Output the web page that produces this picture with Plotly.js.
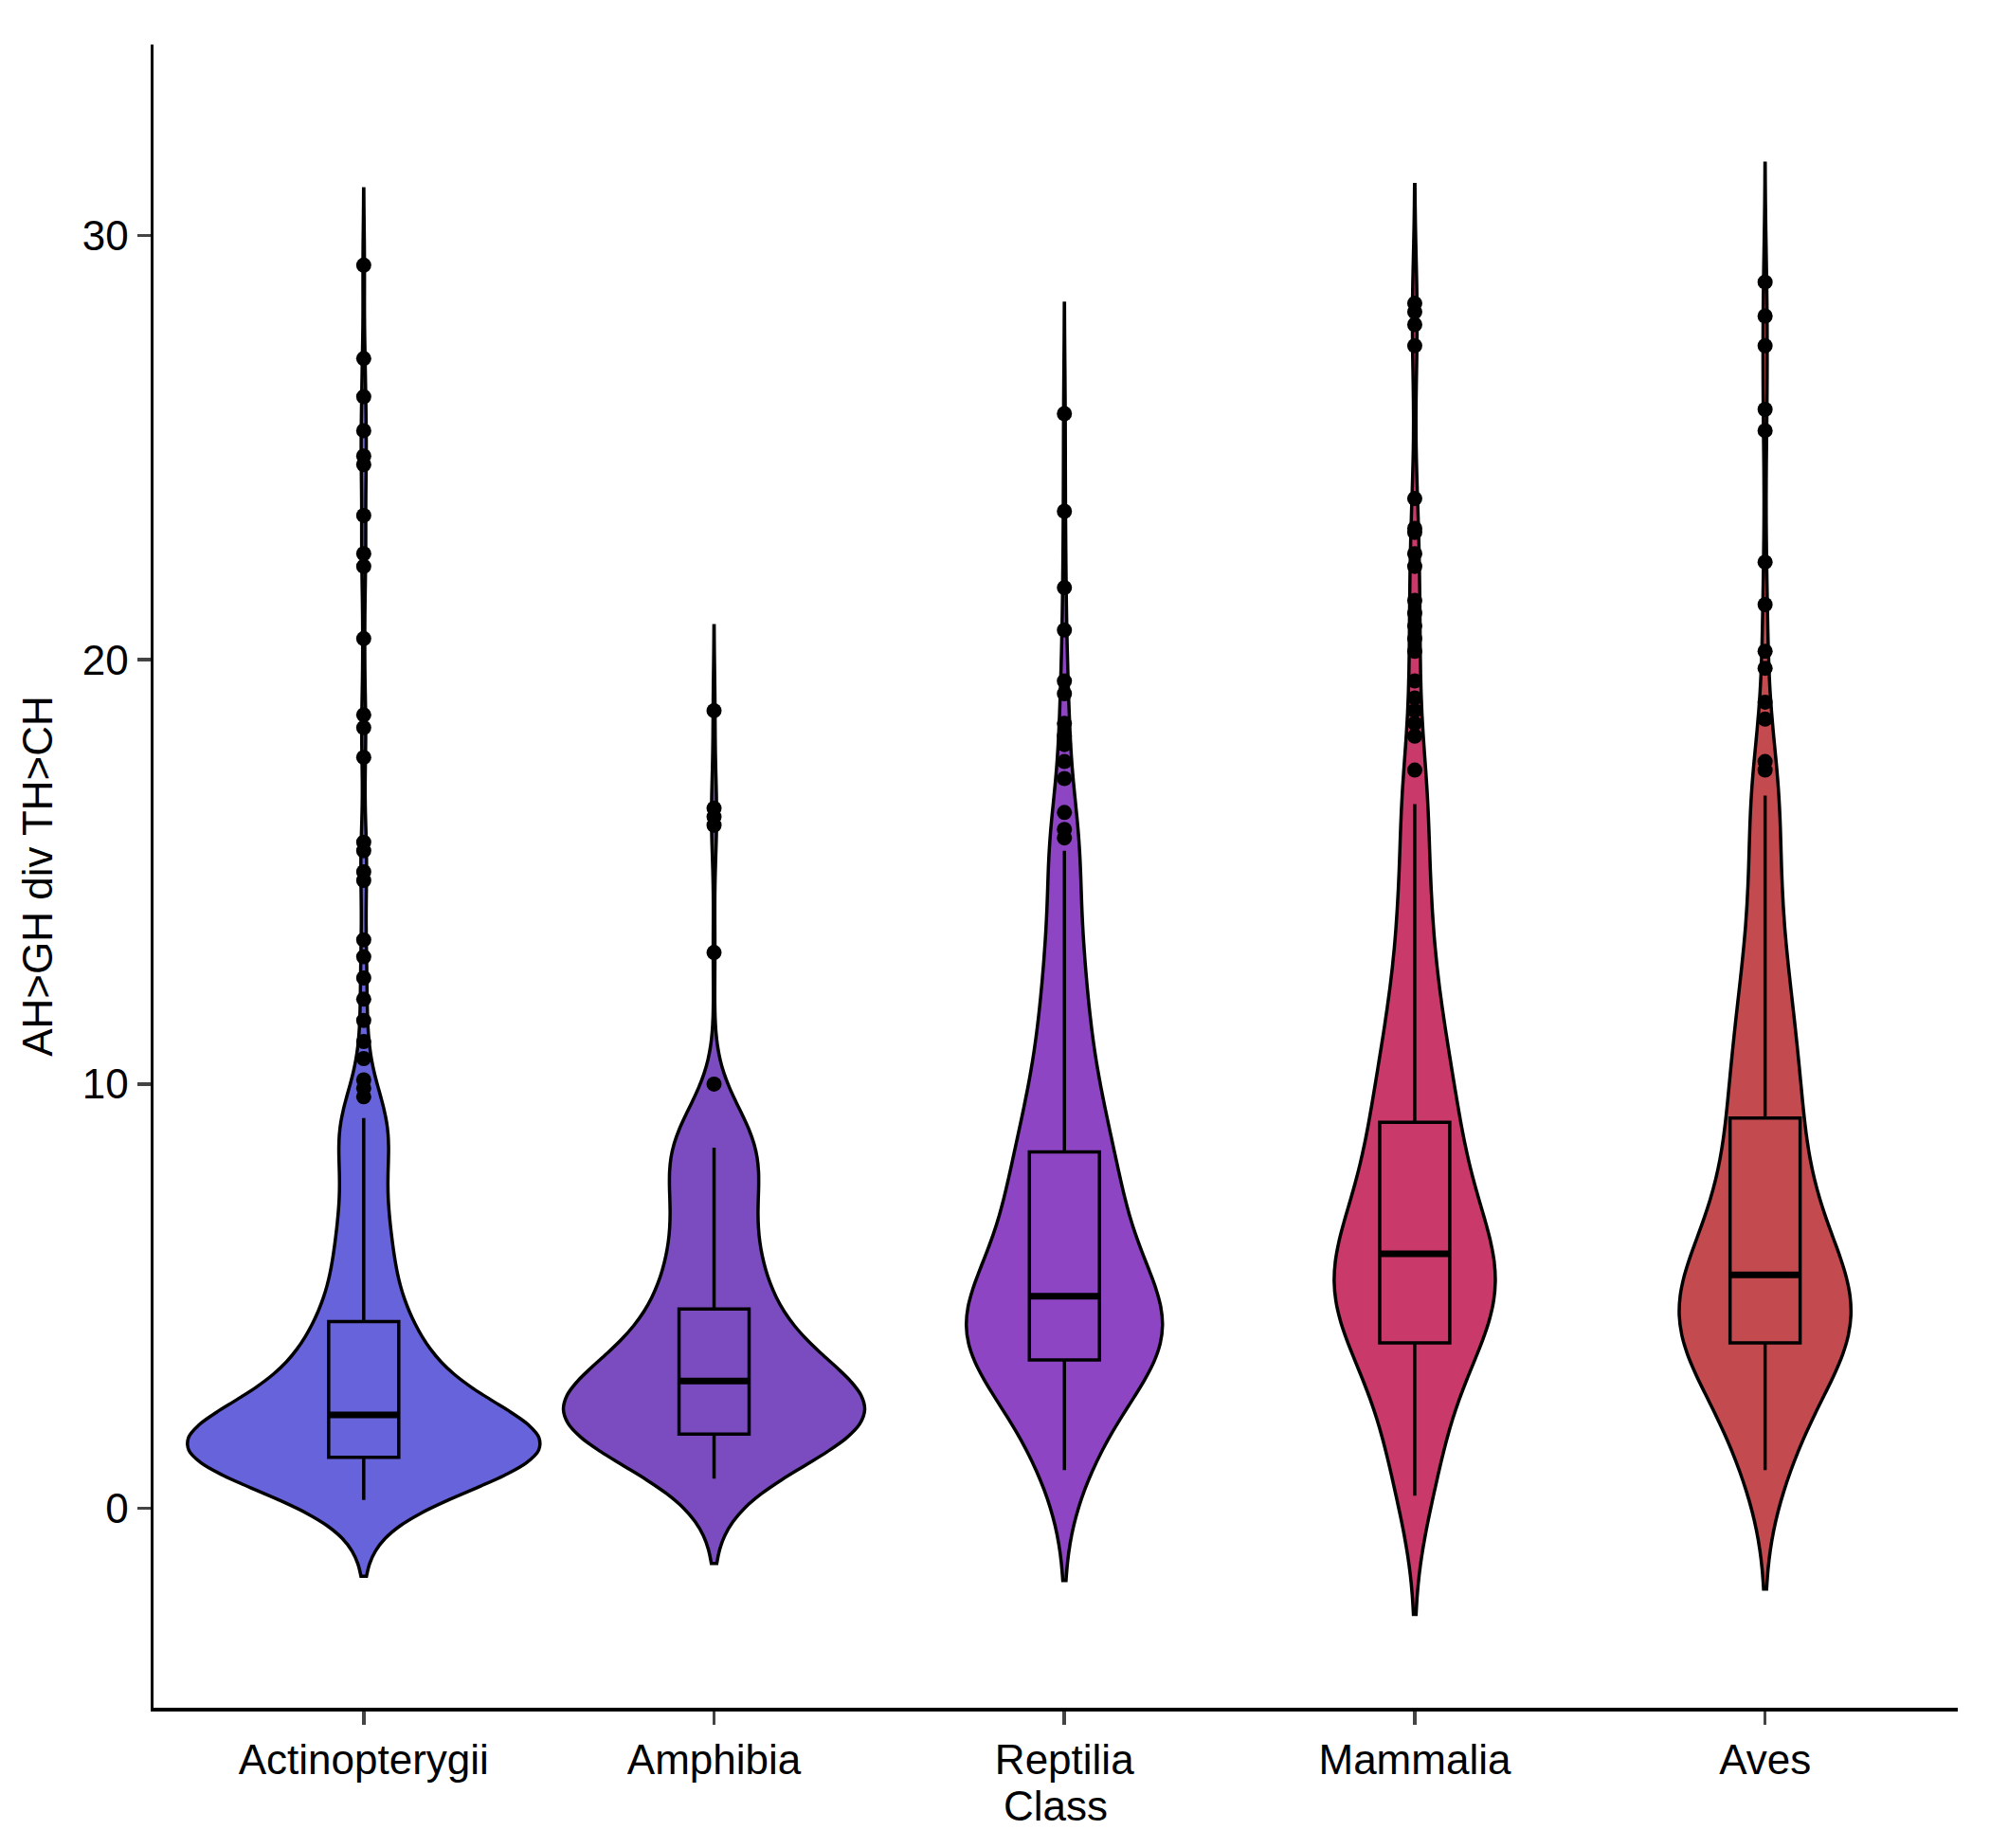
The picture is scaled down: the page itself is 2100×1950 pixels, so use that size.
<!DOCTYPE html>
<html>
<head>
<script src="https://cdn.plot.ly/plotly-3.0.1.min.js"></script>
<style>body{margin:0}#plot{width:2100px;height:1950px}</style>
</head>
<body>
<div id="plot"></div>
<script>
const classes = ['Actinopterygii', 'Amphibia', 'Reptilia', 'Mammalia', 'Aves'];
const colors = ['#6763db', '#7a4cbf', '#8e45c3', '#c93a6b', '#c34a4e'];
const violinWidths = [1.0, 0.86, 0.56, 0.46, 0.49];
// how much heavier the bulk is than the sparse outliers
const bulkWeight = 14;

const bulk = [
  [0.2,0.6,0.9,1.0,1.1,1.2,1.3,1.3,1.4,1.4,1.4,1.5,1.5,1.6,1.7,1.9,2.1,2.2,2.4,2.7,3.0,3.3,3.6,4.0,4.4,5.0,5.8,6.5,7.5,8.6,9.2],
  [0.7,1.2,1.5,1.7,1.9,2.0,2.1,2.2,2.3,2.4,2.5,2.7,3.0,3.2,3.5,3.8,4.2,4.7,5.2,5.8,6.5,7.3,8.0,8.5,9.0],
  [0.9,1.8,2.5,3.0,3.4,3.7,3.9,4.0,4.2,4.5,4.8,5.0,5.4,5.8,6.3,6.8,7.3,7.8,8.4,9.0,9.8,10.8,12.0,13.5,15.5],
  [0.3,1.5,2.5,3.2,3.8,4.2,4.6,4.9,5.1,5.4,5.7,6.0,6.4,6.8,7.3,7.9,8.5,9.1,9.8,10.6,11.5,12.8,14.5,16.6],
  [0.9,1.8,2.6,3.2,3.7,3.9,4.1,4.3,4.6,5.0,5.3,5.5,5.9,6.4,7.0,7.6,8.3,9.2,9.9,10.8,11.8,13.0,14.8,16.8]
];
const outliers = [
  [9.7,9.9,10.1,10.6,11.0,11.5,12.0,12.5,13.0,13.4,14.8,15.0,15.5,15.7,17.7,18.4,18.7,20.5,22.2,22.5,23.4,24.6,24.8,25.4,26.2,27.1,29.3],
  [10.0,13.1,16.1,16.3,16.5,18.8],
  [15.8,16.0,16.4,17.2,17.6,18.0,18.2,18.5,19.2,19.5,20.7,21.7,23.5,25.8],
  [17.4,18.2,18.5,18.8,19.1,19.5,20.2,20.5,20.8,21.1,21.4,22.2,22.5,23.0,23.1,23.8,27.4,27.9,28.2,28.4],
  [17.4,17.6,18.6,19.0,19.8,20.2,21.3,22.3,25.4,25.9,27.4,28.1,28.9]
];
const q1 = [1.2, 1.75, 3.5, 3.9, 3.9];
const med = [2.2, 3.0, 5.0, 6.0, 5.5];
const q3 = [4.4, 4.7, 8.4, 9.1, 9.2];
const lowerFence = [0.2, 0.7, 0.9, 0.3, 0.9];
const upperFence = [9.2, 8.5, 15.5, 16.6, 16.8];
const bandwidths = [0.9, 1.0, 1.3, 1.4, 1.4];

const traces = [];
classes.forEach((c, i) => {
  let ys = [];
  for (let r = 0; r < bulkWeight; r++) ys = ys.concat(bulk[i]);
  ys = ys.concat(outliers[i]);
  traces.push({
    type: 'violin', x: ys.map(() => c), y: ys, name: c,
    fillcolor: colors[i], line: {color: 'black', width: 3.5}, opacity: 1,
    width: violinWidths[i], scalegroup: 'g' + i, scalemode: 'width',
    bandwidth: bandwidths[i], spanmode: 'soft', points: false,
    box: {visible: false}, meanline: {visible: false}, hoverinfo: 'skip'
  });
});
traces.push({
  type: 'box', x: classes, q1: q1, median: med, q3: q3,
  lowerfence: lowerFence, upperfence: upperFence, width: 0.2, whiskerwidth: 0,
  fillcolor: 'rgba(0,0,0,0)', line: {color: 'black', width: 3.5},
  boxpoints: false, showlegend: false
});
// thicker median bars, as in the reference
traces.push({
  type: 'box', x: classes, q1: med, median: med, q3: med,
  lowerfence: med, upperfence: med, width: 0.2, whiskerwidth: 0,
  fillcolor: 'rgba(0,0,0,0)', line: {color: 'black', width: 7},
  boxpoints: false, showlegend: false
});
const ox = [], oy = [];
classes.forEach((c, i) => outliers[i].forEach(v => { ox.push(c); oy.push(v); }));
traces.push({type: 'scatter', mode: 'markers', x: ox, y: oy,
  marker: {color: 'black', size: 16}, showlegend: false});

const layout = {
  width: 2100, height: 1950, showlegend: false,
  paper_bgcolor: 'white', plot_bgcolor: 'white',
  margin: {l: 162, r: 34, t: 47, b: 148},
  font: {family: 'Liberation Sans, Arial, sans-serif', color: 'black', size: 44},
  violinmode: 'overlay', boxmode: 'overlay',
  xaxis: {type: 'category', categoryarray: classes, range: [-0.6, 4.55],
    showline: true, linecolor: 'black', linewidth: 3.5, ticks: 'outside',
    ticklen: 14, tickwidth: 3.5, showgrid: false, zeroline: false,
    tickfont: {size: 44}, title: {text: 'Class', font: {size: 44}, standoff: 4}},
  yaxis: {range: [-4.7, 34.5], tickvals: [0, 10, 20, 30],
    showline: true, linecolor: 'black', linewidth: 3.5, ticks: 'outside',
    ticklen: 14, tickwidth: 3.5, showgrid: false, zeroline: false,
    tickfont: {size: 44}, title: {text: 'AH>GH div TH>CH', font: {size: 44}, standoff: 18}}
};
Plotly.newPlot('plot', traces, layout, {staticPlot: true});
</script>
</body>
</html>
